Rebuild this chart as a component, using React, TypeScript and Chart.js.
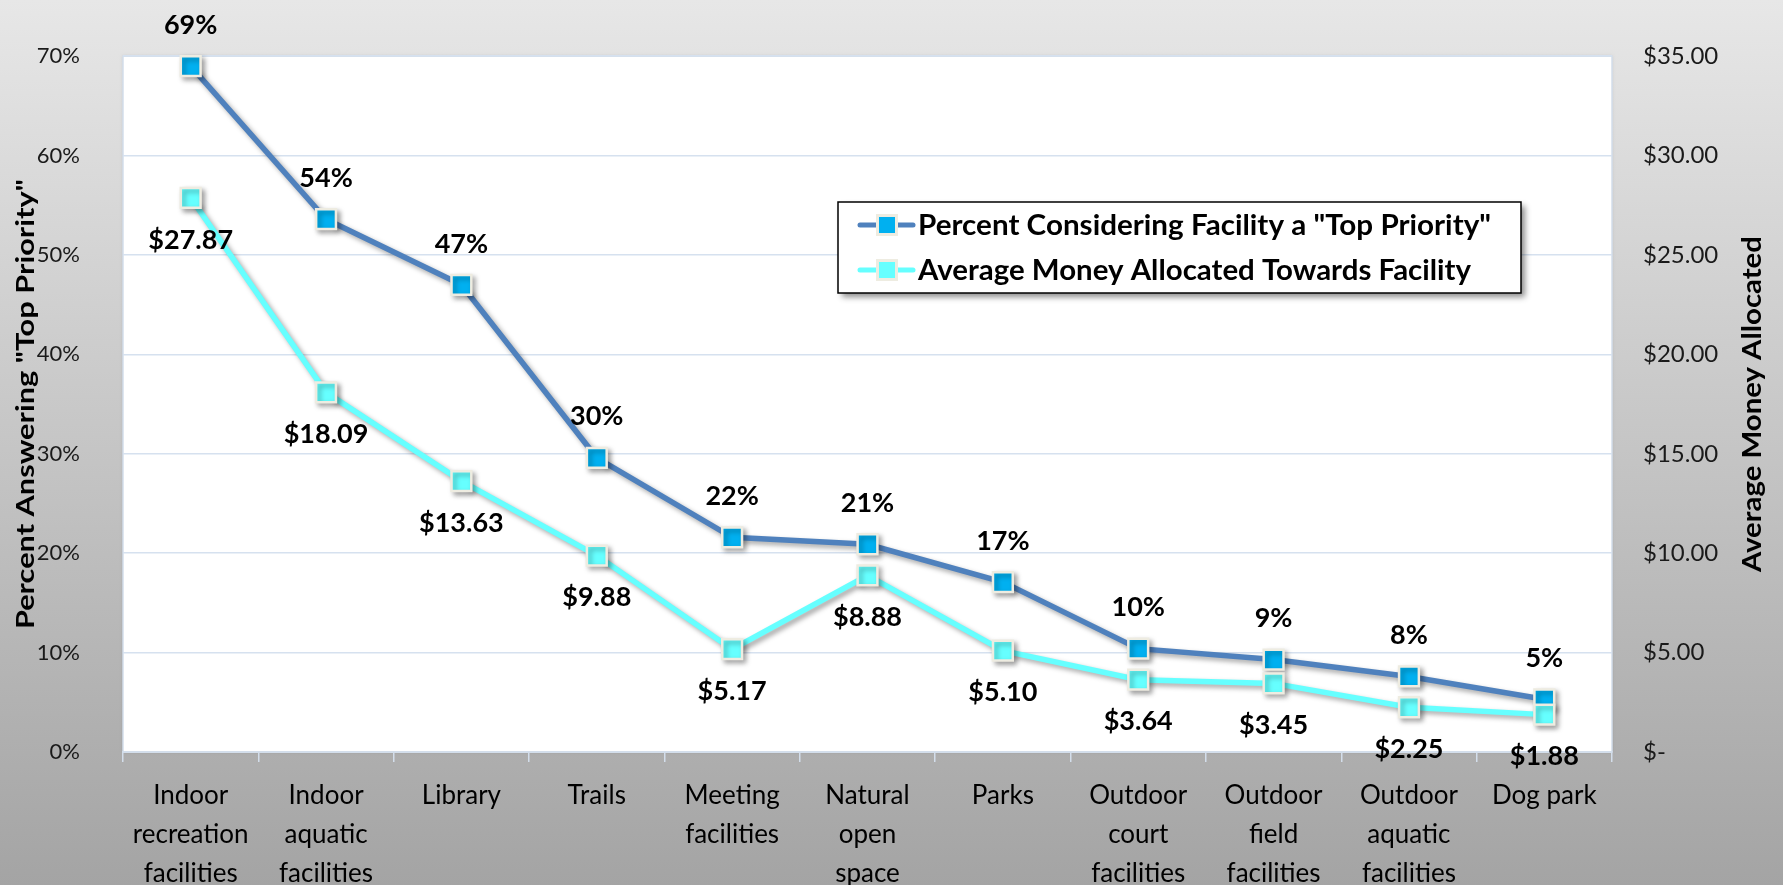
import React, { useEffect, useRef } from 'react';
import { Chart, registerables } from 'chart.js';

Chart.register(...registerables);

const categories: string[][] = [
  ['Indoor', 'recreation', 'facilities'],
  ['Indoor', 'aquatic', 'facilities'],
  ['Library'],
  ['Trails'],
  ['Meeting', 'facilities'],
  ['Natural', 'open', 'space'],
  ['Parks'],
  ['Outdoor', 'court', 'facilities'],
  ['Outdoor', 'field', 'facilities'],
  ['Outdoor', 'aquatic', 'facilities'],
  ['Dog park'],
];

const percentValues = [69.0, 53.6, 47.0, 29.6, 21.6, 20.9, 17.1, 10.4, 9.3, 7.6, 5.3];
const percentLabels = ['69%', '54%', '47%', '30%', '22%', '21%', '17%', '10%', '9%', '8%', '5%'];
const moneyValues = [27.87, 18.09, 13.63, 9.88, 5.17, 8.88, 5.1, 3.64, 3.45, 2.25, 1.88];
const moneyLabels = ['$27.87', '$18.09', '$13.63', '$9.88', '$5.17', '$8.88', '$5.10', '$3.64', '$3.45', '$2.25', '$1.88'];

const seriesNames = ['Percent Considering Facility a "Top Priority"', 'Average Money Allocated Towards Facility'];
const leftAxisTitle = 'Percent Answering "Top Priority"';
const rightAxisTitle = 'Average Money Allocated';

const FONT = "Lato, 'Open Sans', 'DejaVu Sans', sans-serif";
const COND_FONT = "'Liberation Sans Narrow', Lato, 'Open Sans', sans-serif";

const BLUE_LINE = '#4f81bd';
const BLUE_MARK = '#00b0f0';
const CYAN = '#66ffff';
const MARK_BORDER = '#eeece1';

const W = 1783;
const H = 885;

export default function App() {
  const ref = useRef<HTMLCanvasElement | null>(null);

  useEffect(() => {
    document.body.style.margin = '0';
    document.body.style.overflow = 'hidden';
    const canvas = ref.current;
    if (!canvas) return;

    const bgPlugin = {
      id: 'bg',
      beforeDraw(chart: any) {
        const { ctx, chartArea } = chart;
        ctx.save();
        const g = ctx.createLinearGradient(0, 0, 0, H);
        g.addColorStop(0, '#e7e7e7');
        g.addColorStop(1, '#a4a4a4');
        ctx.fillStyle = g;
        ctx.fillRect(0, 0, W, H);
        ctx.shadowColor = 'rgba(0,0,0,0.15)';
        ctx.shadowBlur = 3;
        ctx.fillStyle = '#ffffff';
        ctx.fillRect(chartArea.left, chartArea.top, chartArea.right - chartArea.left, chartArea.bottom - chartArea.top);
        ctx.restore();
        ctx.save();
        ctx.strokeStyle = '#d3deeb';
        ctx.lineWidth = 1.5;
        ctx.strokeRect(chartArea.left, chartArea.top, chartArea.right - chartArea.left, chartArea.bottom - chartArea.top);
        ctx.restore();
      },
      beforeDatasetsDraw(chart: any) {
        const ctx = chart.ctx;
        ctx.save();
        ctx.shadowColor = 'rgba(0,0,0,0.35)';
        ctx.shadowBlur = 5;
        ctx.shadowOffsetX = 3;
        ctx.shadowOffsetY = 3;
      },
      afterDatasetsDraw(chart: any) {
        const ctx = chart.ctx;
        ctx.restore();
        // data labels
        ctx.save();
        ctx.fillStyle = '#000';
        ctx.font = `bold 27px ${FONT}`;
        ctx.textAlign = 'center';
        ctx.textBaseline = 'middle';
        const m0 = chart.getDatasetMeta(0).data;
        const m1 = chart.getDatasetMeta(1).data;
        m0.forEach((p: any, i: number) => ctx.fillText(percentLabels[i], p.x, p.y - 41));
        m1.forEach((p: any, i: number) => ctx.fillText(moneyLabels[i], p.x, p.y + 42));
        ctx.restore();
      },
      afterDraw(chart: any) {
        const ctx = chart.ctx;
        const { chartArea } = chart;
        const midY = (chartArea.top + chartArea.bottom) / 2;
        // axis titles
        ctx.save();
        ctx.fillStyle = '#000';
        ctx.textAlign = 'center';
        ctx.textBaseline = 'middle';
        ctx.translate(26, midY);
        ctx.rotate(-Math.PI / 2);
        ctx.font = `bold 24px ${FONT}`;
        const lw = ctx.measureText(leftAxisTitle).width;
        ctx.scale(450 / lw, 1);
        ctx.fillText(leftAxisTitle, 0, 0);
        ctx.restore();

        ctx.save();
        ctx.fillStyle = '#000';
        ctx.textAlign = 'center';
        ctx.textBaseline = 'middle';
        ctx.translate(1752, midY);
        ctx.rotate(-Math.PI / 2);
        ctx.font = `bold 27px ${COND_FONT}`;
        const rw = ctx.measureText(rightAxisTitle).width;
        ctx.scale(336 / rw, 1);
        ctx.fillText(rightAxisTitle, 0, 0);
        ctx.restore();

        // legend
        const lx = 838, ly = 202, lwid = 683, lh = 91;
        ctx.save();
        ctx.shadowColor = 'rgba(0,0,0,0.45)';
        ctx.shadowBlur = 6;
        ctx.shadowOffsetX = 4;
        ctx.shadowOffsetY = 4;
        ctx.fillStyle = '#fff';
        ctx.fillRect(lx, ly, lwid, lh);
        ctx.restore();
        ctx.save();
        ctx.strokeStyle = '#000';
        ctx.lineWidth = 1.5;
        ctx.strokeRect(lx, ly, lwid, lh);
        const items = [
          { name: seriesNames[0], line: BLUE_LINE, fill: BLUE_MARK, width: 573 },
          { name: seriesNames[1], line: CYAN, fill: CYAN, width: 553 },
        ];
        items.forEach((it, i) => {
          const y = ly + 23 + i * 45;
          ctx.strokeStyle = it.line;
          ctx.lineWidth = 5;
          ctx.lineCap = 'round';
          ctx.beginPath();
          ctx.moveTo(860, y);
          ctx.lineTo(913, y);
          ctx.stroke();
          ctx.fillStyle = MARK_BORDER;
          ctx.fillRect(876, y - 11, 22, 22);
          ctx.fillStyle = it.fill;
          ctx.fillRect(879, y - 8, 16, 16);
          ctx.save();
          ctx.fillStyle = '#000';
          ctx.font = `bold 28px ${FONT}`;
          ctx.textAlign = 'left';
          ctx.textBaseline = 'middle';
          const tw = ctx.measureText(it.name).width;
          ctx.translate(918, y + 1);
          ctx.scale(it.width / tw, 1);
          ctx.fillText(it.name, 0, 0);
          ctx.restore();
        });
        ctx.restore();
      },
    };

    const chart = new Chart(canvas, {
      type: 'line',
      data: {
        labels: categories,
        datasets: [
          {
            label: seriesNames[0],
            data: percentValues,
            yAxisID: 'y',
            borderColor: BLUE_LINE,
            borderWidth: 5.5,
            backgroundColor: BLUE_MARK,
            pointStyle: 'rect',
            pointRadius: 14,
            pointBorderWidth: 2.5,
            pointBorderColor: MARK_BORDER,
            pointBackgroundColor: BLUE_MARK,
            tension: 0,
            clip: false,
            order: 1,
          } as any,
          {
            label: seriesNames[1],
            data: moneyValues,
            yAxisID: 'y1',
            borderColor: CYAN,
            borderWidth: 5.5,
            backgroundColor: CYAN,
            pointStyle: 'rect',
            pointRadius: 14,
            pointBorderWidth: 2.5,
            pointBorderColor: MARK_BORDER,
            pointBackgroundColor: CYAN,
            tension: 0,
            clip: false,
            order: 0,
          } as any,
        ],
      },
      options: {
        responsive: false,
        animation: false,
        devicePixelRatio: 1,
        layout: { padding: { top: 53, left: 0, right: 0, bottom: 0 } },
        plugins: {
          legend: { display: false },
          tooltip: { enabled: false },
        },
        scales: {
          x: {
            offset: true,
            grid: {
              offset: true,
              drawOnChartArea: false,
              drawTicks: true,
              tickLength: 10,
              color: '#d3deeb',
              lineWidth: 1.5,
            },
            border: { display: true, color: '#d3deeb', width: 2 },
            ticks: {
              autoSkip: false,
              maxRotation: 0,
              minRotation: 0,
              padding: 14,
              color: '#000',
              font: { family: FONT, size: 26, lineHeight: 1.5 },
            },
            afterFit(scale: any) {
              scale.height = 133;
            },
          },
          y: {
            position: 'left',
            min: 0,
            max: 70,
            ticks: {
              stepSize: 10,
              padding: 43,
              color: '#1a1a1a',
              font: { family: FONT, size: 22 },
              callback: (v: any) => `${v}%`,
            },
            grid: { color: '#d6e1ef', lineWidth: 1.5, drawTicks: false },
            border: { display: false },
            afterFit(scale: any) {
              scale.width = 123;
            },
          },
          y1: {
            position: 'right',
            min: 0,
            max: 35,
            ticks: {
              stepSize: 5,
              padding: 31,
              color: '#1a1a1a',
              font: { family: FONT, size: 24 },
              callback: (v: any) => (Number(v) === 0 ? '$-' : `$${Number(v).toFixed(2)}`),
            },
            grid: { drawOnChartArea: false, drawTicks: false },
            border: { display: false },
            afterFit(scale: any) {
              scale.width = 171;
            },
          },
        },
      },
      plugins: [bgPlugin],
    });

    return () => chart.destroy();
  }, []);

  return (
    <div style={{ width: W, height: H }}>
      <canvas ref={ref} width={W} height={H} style={{ display: 'block', width: W, height: H }} />
    </div>
  );
}
